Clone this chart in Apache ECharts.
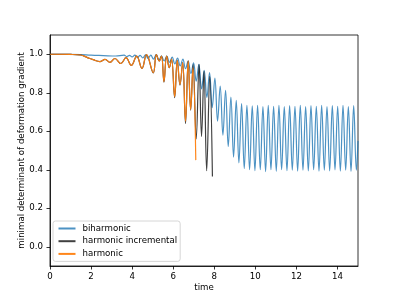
<!DOCTYPE html>
<html><head><meta charset="utf-8">
<script src="https://cdn.jsdelivr.net/npm/echarts@6/dist/echarts.min.js"></script>
<style>html,body{margin:0;padding:0;background:#fff}#c{width:399px;height:299px}</style>
</head><body><div id="c"></div>
<script>
const seriesNames = ['biharmonic', 'harmonic incremental', 'harmonic'];
const xTicks = [0, 2, 4, 6, 8, 10, 12, 14];
const yTicks = [0.0, 0.2, 0.4, 0.6, 0.8, 1.0];

const biharmonic = [
[0,1.0],[0.8,0.9995],[1.5,0.998],[2.0,0.995],[2.6,0.993],[3.2,0.991],[3.61,0.995],[3.74,0.988],[3.87,0.994],[4.0,0.986],[4.13,0.995],[4.26,0.984],[4.39,0.994],[4.52,0.981],[4.65,0.997],[4.78,0.978],[4.91,0.995],[5.04,0.975],[5.17,0.998],[5.3,0.97],[5.43,0.99],[5.56,0.965],[5.69,0.99],[5.82,0.958],[5.95,0.985],[6.08,0.95],[6.21,0.98],[6.34,0.94],[6.47,0.975],[6.6,0.925],[6.73,0.965],[6.86,0.9],[6.99,0.955],[7.12,0.86],[7.25,0.948],[7.38,0.82],[7.51,0.917],[7.64,0.775],[7.77,0.905],[7.9,0.722],[8.03,0.876],[8.16,0.653],[8.29,0.835],[8.42,0.58],[8.55,0.812],[8.68,0.521],[8.81,0.778],[8.94,0.466],[9.07,0.76],[9.2,0.436],[9.33,0.743],[9.46,0.406],
[9.59,0.735],[9.72,0.40],[9.85,0.732],[9.98,0.395],[10.11,0.735],[10.24,0.40],[10.37,0.728],[10.5,0.39],[10.63,0.735],[10.76,0.40],[10.89,0.73],[11.02,0.392],[11.15,0.735],[11.28,0.40],[11.41,0.728],[11.54,0.395],[11.67,0.733],[11.8,0.398],[11.93,0.73],[12.06,0.393],[12.19,0.735],[12.32,0.398],[12.45,0.728],[12.58,0.394],[12.71,0.733],[12.84,0.40],[12.97,0.73],[13.1,0.393],[13.23,0.735],[13.36,0.398],[13.49,0.728],[13.62,0.394],[13.75,0.733],[13.88,0.399],[14.01,0.73],[14.14,0.393],[14.27,0.735],[14.4,0.398],[14.53,0.728],[14.66,0.392],[14.79,0.733],[14.92,0.398],[15.0,0.55]
];

const harmonicIncremental = [
[0,1.0],[1.0,0.999],[1.5,0.996],[1.8,0.984],[2.1,0.972],[2.43,0.962],[2.68,0.973],[2.92,0.958],[3.16,0.978],[3.45,0.952],[3.7,0.982],[3.96,0.942],[4.22,0.99],[4.48,0.926],[4.7,0.998],[5.03,0.903],[5.18,0.998],[5.32,0.965],[5.43,0.99],[5.55,0.855],[5.68,0.99],[5.81,0.93],[5.92,0.975],[6.07,0.775],[6.2,0.968],[6.33,0.84],[6.46,0.956],[6.6,0.64],[6.73,0.966],[6.85,0.71],[6.97,0.946],[7.12,0.56],[7.26,0.948],[7.38,0.573],[7.5,0.912],[7.63,0.395],[7.78,0.885],[7.91,0.365]
];

const harmonic = [
[0,1.0],[1.0,0.999],[1.5,0.996],[1.8,0.984],[2.1,0.972],[2.43,0.962],[2.68,0.973],[2.92,0.958],[3.16,0.978],[3.45,0.952],[3.7,0.982],[3.96,0.942],[4.22,0.99],[4.48,0.926],[4.7,0.998],[5.03,0.905],[5.18,0.998],[5.32,0.965],[5.43,0.99],[5.55,0.858],[5.68,0.99],[5.81,0.93],[5.92,0.975],[6.07,0.78],[6.2,0.968],[6.33,0.843],[6.46,0.956],[6.6,0.652],[6.73,0.966],[6.85,0.712],[6.96,0.93],[7.1,0.45]
];

const colors = ['#1f77b4', '#000000', '#ff7f0e'];
const opacities = [0.8, 0.75, 0.95];
const FS = 8.65;
const chart = echarts.init(document.getElementById('c'), null, {renderer: 'canvas'});
const axisCommon = {
  axisLine: {show: true, onZero: false, lineStyle: {color: '#000', width: 0.8}},
  splitLine: {show: false},
  nameLocation: 'middle',
  nameMoveOverlap: false,
  nameTextStyle: {fontSize: FS, color: '#000', fontFamily: 'DejaVu Sans'}
};
chart.setOption({
  animation: false,
  backgroundColor: '#fff',
  textStyle: {fontFamily: 'DejaVu Sans'},
  grid: {left: 50, right: 41, top: 35, bottom: 33, show: true, borderColor: '#000', borderWidth: 0.8, backgroundColor: 'transparent'},
  xAxis: Object.assign({}, axisCommon, {
    type: 'value', min: 0, max: 15, name: 'time', nameGap: 17,
    axisTick: {show: true, length: 3.5, customValues: xTicks, lineStyle: {color: '#000', width: 0.8}},
    axisLabel: {customValues: xTicks, fontSize: FS, color: '#000', margin: 6, fontFamily: 'DejaVu Sans'}
  }),
  yAxis: Object.assign({}, axisCommon, {
    type: 'value', min: -0.1, max: 1.1, name: 'minimal determinant of deformation gradient', nameGap: 24, nameRotate: 90,
    axisTick: {show: true, length: 3.5, customValues: yTicks, lineStyle: {color: '#000', width: 0.8}},
    axisLabel: {customValues: yTicks, fontSize: FS, color: '#000', margin: 7, fontFamily: 'DejaVu Sans', formatter: v => Number(v).toFixed(1)}
  }),
  legend: {
    left: 53, top: 221, orient: 'vertical', itemWidth: 17, itemHeight: 9, itemGap: 3.7,
    padding: [3, 3, 3, 4.5], backgroundColor: 'rgba(255,255,255,0.8)', borderColor: '#cccccc', borderWidth: 0.8, borderRadius: 2.5,
    itemStyle: {opacity: 0, borderWidth: 0, color: 'rgba(0,0,0,0)'},
    textStyle: {fontSize: FS, color: '#000', fontFamily: 'DejaVu Sans', padding: [0, 0, 0, 2]},
    data: seriesNames
  },
  series: [biharmonic, harmonicIncremental, harmonic].map((d, i) => ({
    name: seriesNames[i], type: 'line', data: d, symbol: 'none', smooth: 0.4, clip: true,
    lineStyle: {color: colors[i], width: 1.2, opacity: opacities[i]}, itemStyle: {color: colors[i]}
  }))
});
</script></body></html>
